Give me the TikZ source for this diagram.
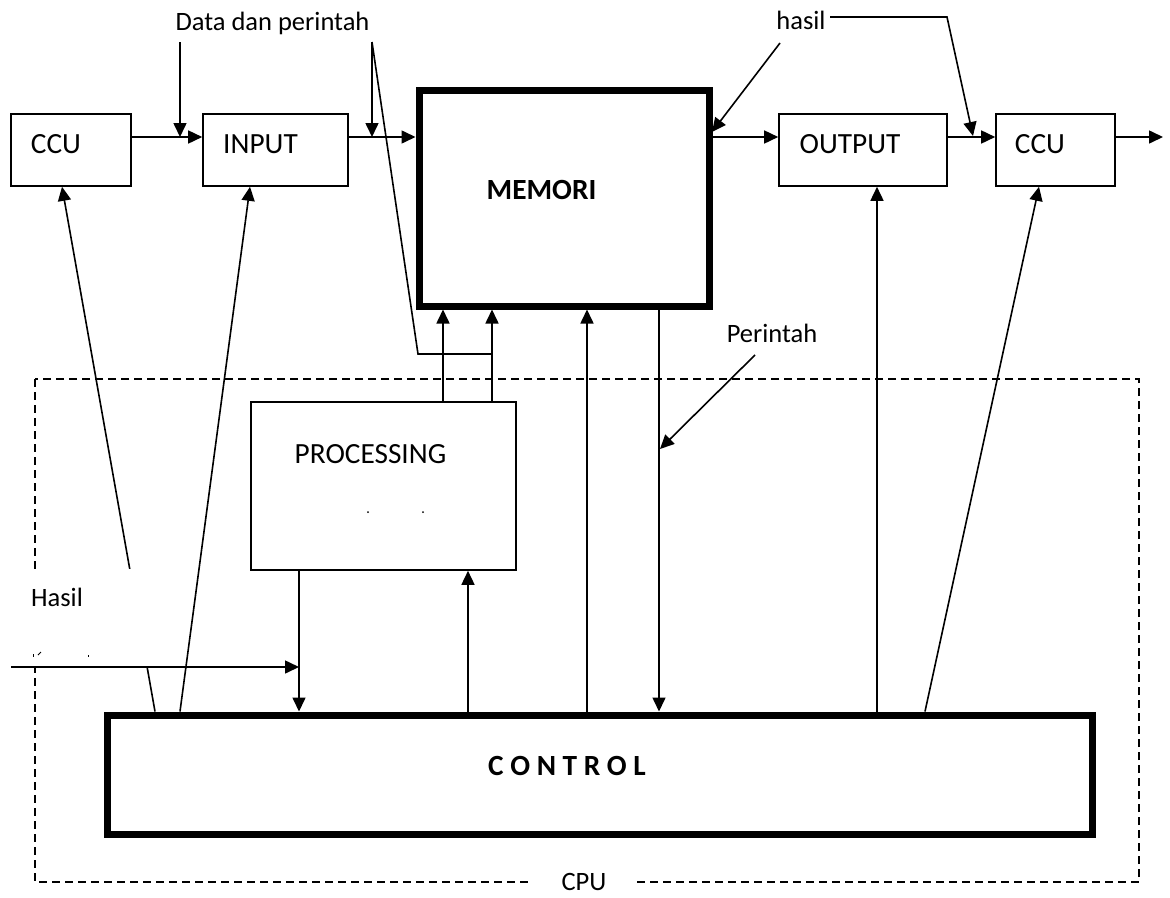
\documentclass[tikz,border=0pt]{standalone}
\usepackage{fontspec}
\setmainfont{Carlito}
\usetikzlibrary{arrows.meta}
\begin{document}
\begin{tikzpicture}[x=1pt,y=-1pt,
  blk/.style={draw, line width=1.6pt, inner sep=0pt},
  heavy/.style={draw, line width=7pt, inner sep=0pt},
  txt/.style={font=\fontsize{26.5}{30}\selectfont, inner sep=0pt, anchor=base},
  boxtxt/.style={font=\fontsize{29.3}{33}\selectfont, inner sep=0pt, anchor=base},
  boldtxt/.style={font=\fontsize{29.3}{33}\selectfont\bfseries, inner sep=0pt, anchor=base},
  conn/.style={line width=1.6pt, -{Triangle[length=14pt,width=13pt]}},
  wire/.style={line width=1.6pt},
  cpuframe/.style={line width=1.6pt, dash pattern=on 8pt off 5pt}]
\useasboundingbox (0,0) rectangle (1170,897);

% processor frame
\draw[cpuframe] (35,379) rectangle (1139,882);

% blocks
\node[blk, minimum width=120pt, minimum height=72pt] (ccuL) at (71,150) {};
\node[blk, minimum width=145pt, minimum height=72pt] (inp) at (275.5,150) {};
\node[heavy, minimum width=290pt, minimum height=216pt] (mem) at (564,198) {};
\node[blk, minimum width=168pt, minimum height=72pt] (outp) at (863,150) {};
\node[blk, minimum width=119pt, minimum height=72pt] (ccuR) at (1055.5,150) {};
\node[blk, minimum width=265pt, minimum height=168pt] (proc) at (383.5,486) {};
\node[heavy, minimum width=985pt, minimum height=119pt] (ctrl) at (599.5,774.5) {};

% block captions
\node[boxtxt] (tCcuL) at (56,153) {CCU};
\node[boxtxt] (tInp) at (260.5,153) {INPUT};
\node[boldtxt] (tMem) at (541.5,199) {MEMORI};
\node[boxtxt] (tOut) at (850,153) {OUTPUT};
\node[boxtxt] (tCcuR) at (1040,153) {CCU};
\node[boxtxt] (tProc) at (370.5,463) {PROCESSING};
\node[boldtxt] (tCtrl) at (567,775) {C O N T R O L};
\fill (368,512) circle (1pt);
\fill (423,512) circle (1pt);

% free labels
\node[txt] (tData) at (272.5,30) {Data dan perintah};
\node[txt] (tHasilTop) at (801,29) {hasil};
\node[txt] (tPerintah) at (772,342) {Perintah};

% helper coordinates
\coordinate (ya) at (0,137);
\coordinate (dA) at (180,42);
\coordinate (dB) at (372,42);
\coordinate (bend) at (418,354);
\coordinate (px1) at (443,0);
\coordinate (px2) at (492,0);
\coordinate (px3) at (587,0);
\coordinate (px4) at (659,0);
\coordinate (px5) at (299,0);
\coordinate (px6) at (468,0);
\coordinate (px7) at (877,0);
\coordinate (exitR) at (1163,137);
\coordinate (hs) at (830,17);
\coordinate (hc) at (947,17);
\coordinate (ht) at (973,136);
\coordinate (ha) at (780,43);
\coordinate (hb) at (712,132);
\coordinate (pa) at (755,355);
\coordinate (pb) at (660,449);
\coordinate (lin) at (11,667);

% main data path
\draw[conn] (ccuL.east |- ya) -- (inp.west |- ya);
\draw[conn] (inp.east |- ya) -- (mem.west |- ya);
\draw[conn] (mem.east |- ya) -- (outp.west |- ya);
\draw[conn] (outp.east |- ya) -- (ccuR.west |- ya);
\draw[conn] (ccuR.east |- ya) -- (exitR);

% label pointers
\draw[conn] (dA) -- (dA |- ya);
\draw[conn] (dB) -- (dB |- ya);
\draw[wire] (dB) -- (bend) -- (bend -| px2);
\draw[conn] (hs) -- (hc) -- (ht);
\draw[conn] (ha) -- (hb);
\draw[conn] (pa) -- (pb);

% processing <-> memory
\draw[conn] (proc.north -| px1) -- (mem.south -| px1);
\draw[conn] (proc.north -| px2) -- (mem.south -| px2);

% control links
\draw[conn] (ctrl.north -| px3) -- (mem.south -| px3);
\draw[conn] (mem.south -| px4) -- (ctrl.north -| px4);
\draw[conn] (proc.south -| px5) -- (ctrl.north -| px5);
\draw[conn] (ctrl.north -| px6) -- (proc.south -| px6);
\draw[conn] (ctrl.north -| px7) -- (outp.south -| px7);
\draw[conn] (ctrl.north -| 925,0) -- (ccuR.south -| 1039,0);
\draw[conn] (ctrl.north -| 180,0) -- (inp.south -| 250,0);
\draw[conn] (ctrl.north -| 155,0) -- (ccuL.south -| 62,0);

% result text box (white fill hides what lies under it)
\node[fill=white, inner sep=0pt, minimum width=132pt, minimum height=97pt] (hbox) at (86,617.5) {};
\node[txt] (tHasil) at (57,606) {Hasil};
\draw[line width=1pt] (33,654) -- (33,657);
\draw[line width=1pt] (38,655) -- (41,652);
\draw[line width=1pt] (88,655) -- (88,657);
\draw[conn] (lin) -- (lin -| px5);

% frame caption
\node[fill=white, inner sep=0pt, text depth=0pt, minimum width=102pt, anchor=base, font=\fontsize{26.5}{30}\selectfont] (cpu) at (584,890) {CPU};
\end{tikzpicture}
\end{document}
